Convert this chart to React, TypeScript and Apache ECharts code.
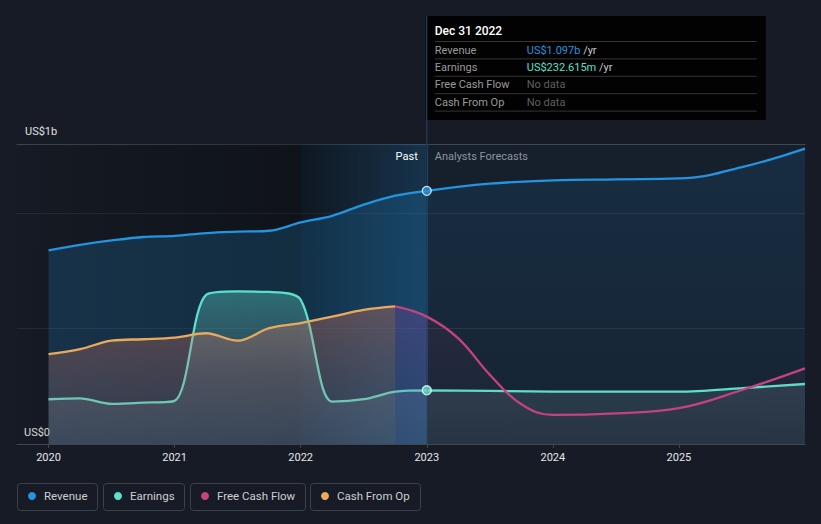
import React, { useEffect, useRef } from "react";
import * as echarts from "echarts";

// ---------- data (values in US$ billions) ----------
const tickYears = [2020, 2021, 2022, 2023, 2024, 2025];

const pastYears = [2020, 2020.25, 2020.5, 2020.75, 2021, 2021.25, 2021.5, 2021.75, 2022, 2022.25, 2022.5, 2022.75, 2023];
const revenuePast = [0.839, 0.863, 0.882, 0.897, 0.902, 0.914, 0.92, 0.924, 0.96, 0.989, 1.037, 1.076, 1.097];
const earningsPast = [0.194, 0.198, 0.174, 0.179, 0.187, 0.646, 0.661, 0.659, 0.625, 0.184, 0.194, 0.227, 0.2326];

const cfoYears = [2020, 2020.25, 2020.5, 2020.75, 2021, 2021.25, 2021.5, 2021.75, 2022, 2022.25, 2022.5, 2022.75];
const cashFromOp = [0.389, 0.411, 0.448, 0.454, 0.461, 0.48, 0.448, 0.502, 0.524, 0.552, 0.581, 0.596];

const revenueForecastYears = [2023, 2023.5, 2024, 2024.5, 2025, 2025.5, 2026];
const revenueForecast = [1.097, 1.128, 1.142, 1.147, 1.151, 1.2, 1.28];

const earningsForecastYears = [2023, 2024, 2025, 2025.5, 2026];
const earningsForecast = [0.2326, 0.227, 0.227, 0.242, 0.26];

const fcfPastYears = [2022.75, 2023];
const fcfPast = [0.596, 0.552];
const fcfForecastYears = [2023, 2023.25, 2023.5, 2023.75, 2024, 2024.5, 2025, 2025.5, 2026];
const fcfForecast = [0.552, 0.458, 0.3, 0.172, 0.126, 0.133, 0.155, 0.234, 0.328];

const nowYear = 2023;
const nowRevenue = 1.097;
const nowEarnings = 0.2326;

const legendItems = ["Revenue", "Earnings", "Free Cash Flow", "Cash From Op"];

// ---------- styles ----------
const REV = "#2394df";
const EARN = "#5ce0cb";
const FCF = "#c4437f";
const CFO = "#eaaa5b";
const BG = "#161b25";
const FONT = 'Roboto, "Noto Sans", "DejaVu Sans", sans-serif';

const zip = (xs: number[], ys: number[]) => xs.map((x, i) => [x, ys[i]]);
const vgrad = (stops: [number, string][]) =>
  new echarts.graphic.LinearGradient(0, 0, 0, 1, stops.map(([offset, color]) => ({ offset, color })));
const hgrad = (stops: [number, string][]) =>
  new echarts.graphic.LinearGradient(0, 0, 1, 0, stops.map(([offset, color]) => ({ offset, color })));

function lineSeries(name: string, color: string, data: number[][], areaColor: any, z: number, smooth = 0.35, width = 2.3) {
  return {
    type: "line",
    name,
    data,
    smooth,
    showSymbol: false,
    symbol: "none",
    silent: true,
    z,
    lineStyle: { color, width, opacity: width > 0 ? 1 : 0 },
    itemStyle: { color },
    areaStyle: areaColor ? { color: areaColor, opacity: 1 } : undefined,
  };
}

export default function App() {
  const ref = useRef<HTMLDivElement>(null);

  useEffect(() => {
    if (!ref.current) return;
    const chart = echarts.init(ref.current, null, { renderer: "svg" });

    const fcfAll = zip(fcfPastYears, fcfPast).concat(zip(fcfForecastYears, fcfForecast).slice(1));

    const option: any = {
      animation: false,
      backgroundColor: BG,
      textStyle: { fontFamily: FONT },
      grid: { left: 17, right: 16, top: 144, bottom: 80, containLabel: false },
      xAxis: [
        {
          type: "value",
          min: 2019.75,
          max: 2026,
          position: "bottom",
          axisLine: { show: true, lineStyle: { color: "#41464f", width: 1 } },
          axisTick: { show: true, customValues: tickYears, length: 4, lineStyle: { color: "#41464f" } },
          axisLabel: {
            customValues: tickYears,
            formatter: (v: number) => String(v),
            color: "#e6e6e6",
            fontSize: 11,
            margin: 8,
            fontFamily: FONT,
          },
          splitLine: { show: false },
        },
        {
          type: "value",
          min: 2019.75,
          max: 2026,
          position: "top",
          axisLine: { show: true, lineStyle: { color: "#41464f", width: 1 } },
          axisTick: { show: false },
          axisLabel: { show: false },
          splitLine: { show: false },
        },
      ],
      yAxis: {
        type: "value",
        min: 0,
        max: 1.3,
        interval: 0.5,
        axisLine: { show: false },
        axisTick: { show: false },
        axisLabel: { show: false },
        splitLine: { lineStyle: { color: "#272d36", width: 1 } },
      },
      series: [
        {
          type: "line",
          name: "bg",
          data: [],
          silent: true,
          z: 0,
          markArea: {
            silent: true,
            data: [
              [
                { xAxis: 2019.75, itemStyle: { color: hgrad([[0, "rgba(0,0,0,0.04)"], [1, "rgba(0,0,0,0.32)"]]) } },
                { xAxis: 2022 },
              ],
              [
                { xAxis: 2022, itemStyle: { color: hgrad([[0, "rgba(0,15,25,0.35)"], [1, "rgba(25,104,160,0.3)"]]) } },
                { xAxis: 2023 },
              ],
              [
                { xAxis: 2023, itemStyle: { color: "rgba(35,110,170,0.05)" } },
                { xAxis: 2026 },
              ],
            ],
          },
          markLine: {
            silent: true,
            symbol: "none",
            label: { show: false },
            lineStyle: { color: "#22405a", width: 1.2, type: "solid" },
            data: [{ xAxis: nowYear }],
          },
        },
        lineSeries("Revenue", REV, zip(pastYears, revenuePast), "rgba(35,148,223,0.2)", 2),
        lineSeries(
          "Revenue forecast",
          REV,
          zip(revenueForecastYears, revenueForecast),
          vgrad([[0, "rgba(35,148,223,0.12)"], [1, "rgba(35,148,223,0.04)"]]),
          2,
          0.45
        ),
        lineSeries(
          "Earnings",
          EARN,
          zip(pastYears, earningsPast).concat(zip(earningsForecastYears, earningsForecast).slice(1)),
          vgrad([[0, "rgba(92,224,203,0.36)"], [0.55, "rgba(140,200,205,0.15)"], [1, "rgba(200,210,225,0.09)"]]),
          3,
          0.3
        ),
        lineSeries(
          "Cash From Op",
          CFO,
          zip(cfoYears, cashFromOp),
          vgrad([[0, "rgba(216,117,93,0.36)"], [1, "rgba(150,110,120,0.18)"]]),
          4
        ),
        lineSeries(
          "Free Cash Flow past fill",
          FCF,
          zip(fcfPastYears, fcfPast),
          vgrad([[0, "rgba(150,70,170,0.3)"], [1, "rgba(120,80,160,0.12)"]]),
          5,
          0.35,
          0
        ),
        lineSeries(
          "Free Cash Flow forecast fill",
          FCF,
          zip(fcfForecastYears, fcfForecast),
          vgrad([[0, "rgba(196,67,127,0.09)"], [1, "rgba(196,67,127,0)"]]),
          5,
          0.4,
          0
        ),
        lineSeries("Free Cash Flow", FCF, fcfAll, null, 6, 0.4),
        {
          type: "scatter",
          name: "now",
          silent: true,
          z: 10,
          symbolSize: 9,
          data: [
            { value: [nowYear, nowRevenue], itemStyle: { color: REV, borderColor: "#ffffff", borderWidth: 1.3 } },
            { value: [nowYear, nowEarnings], itemStyle: { color: EARN, borderColor: "#ffffff", borderWidth: 1.3 } },
          ],
        },
      ],
    };

    chart.setOption(option);

    const xNow = chart.convertToPixel({ xAxisIndex: 0 }, nowYear) as number;
    const yTop = chart.convertToPixel({ yAxisIndex: 0 }, 1.3) as number;
    const yZero = chart.convertToPixel({ yAxisIndex: 0 }, 0) as number;

    const tipX = xNow - 1;
    const tipY = 16;
    const tipW = 340;
    const rowH = 17.4;
    const rows = [
      { label: "Revenue", rich: "{rev|US$1.097b} {unit|/yr}" },
      { label: "Earnings", rich: "{earn|US$232.615m} {unit|/yr}" },
      { label: "Free Cash Flow", rich: "{nd|No data}" },
      { label: "Cash From Op", rich: "{nd|No data}" },
    ];
    const tipChildren: any[] = [
      { type: "rect", shape: { x: tipX, y: tipY, width: tipW, height: 104 }, style: { fill: "#020203" } },
      {
        type: "text",
        style: { x: tipX + 9, y: tipY + 15, text: "Dec 31 2022", fill: "#ffffff", font: `500 12px ${FONT}`, verticalAlign: "middle" },
      },
    ];
    rows.forEach((r, i) => {
      const lineY = tipY + 25.5 + i * rowH;
      tipChildren.push({
        type: "line",
        shape: { x1: tipX + 9, y1: lineY, x2: tipX + tipW - 9, y2: lineY },
        style: { stroke: "#353535", lineWidth: 1 },
      });
      const cy = lineY + 8.5;
      tipChildren.push({
        type: "text",
        style: { x: tipX + 9, y: cy, text: r.label, fill: "#9a9a9a", font: `11px ${FONT}`, verticalAlign: "middle" },
      });
      tipChildren.push({
        type: "text",
        style: {
          x: tipX + 101,
          y: cy,
          text: r.rich,
          verticalAlign: "middle",
          font: `11px ${FONT}`,
          rich: {
            rev: { fill: REV, fontSize: 11, fontFamily: FONT },
            earn: { fill: EARN, fontSize: 11, fontFamily: FONT },
            unit: { fill: "#c8c8c8", fontSize: 11, fontFamily: FONT },
            nd: { fill: "#5f5f5f", fontSize: 11, fontFamily: FONT },
          },
        },
      });
    });
    const lastY = tipY + 25.5 + rows.length * rowH;
    tipChildren.push({
      type: "line",
      shape: { x1: tipX + 9, y1: lastY, x2: tipX + tipW - 9, y2: lastY },
      style: { stroke: "#353535", lineWidth: 1 },
    });

    // legend
    const legendColors = [REV, EARN, FCF, CFO];
    const boxes = [
      [17, 80],
      [103, 81],
      [190, 115],
      [310, 110],
    ];
    const legendChildren: any[] = [];
    legendItems.forEach((name, i) => {
      const [bx, bw] = boxes[i];
      legendChildren.push({
        type: "rect",
        shape: { x: bx + 0.5, y: 483.5, width: bw, height: 27, r: 3 },
        style: { fill: "none", stroke: "#3b4049", lineWidth: 1 },
      });
      legendChildren.push({
        type: "circle",
        shape: { cx: bx + 15, cy: 496, r: 4 },
        style: { fill: legendColors[i] },
      });
      legendChildren.push({
        type: "text",
        style: { x: bx + 27, y: 496, text: name, fill: "#cfcfcf", font: `11.5px ${FONT}`, verticalAlign: "middle" },
      });
    });

    chart.setOption({
      graphic: [
        {
          type: "line",
          silent: true,
          z: 1,
          shape: { x1: xNow, y1: tipY, x2: xNow, y2: yTop },
          style: { stroke: "#22405a", lineWidth: 1.2 },
        },
        {
          type: "text",
          silent: true,
          style: { x: 25, y: yTop - 13, text: "US$1b", fill: "#e2e2e2", font: `11px ${FONT}`, verticalAlign: "middle" },
        },
        {
          type: "text",
          silent: true,
          style: { x: 24, y: yZero - 12, text: "US$0", fill: "#e2e2e2", font: `11px ${FONT}`, verticalAlign: "middle" },
        },
        {
          type: "text",
          silent: true,
          z: 20,
          style: { x: xNow - 9, y: yTop + 12, text: "Past", fill: "#ffffff", font: `11px ${FONT}`, align: "right", verticalAlign: "middle" },
        },
        {
          type: "text",
          silent: true,
          z: 20,
          style: { x: xNow + 8, y: yTop + 12, text: "Analysts Forecasts", fill: "#8e949c", font: `11px ${FONT}`, verticalAlign: "middle" },
        },
        { type: "group", silent: true, z: 50, children: tipChildren },
        { type: "group", silent: true, z: 50, children: legendChildren },
      ],
    });

    return () => chart.dispose();
  }, []);

  return <div ref={ref} style={{ width: 821, height: 524, position: "absolute", left: 0, top: 0 }} />;
}
